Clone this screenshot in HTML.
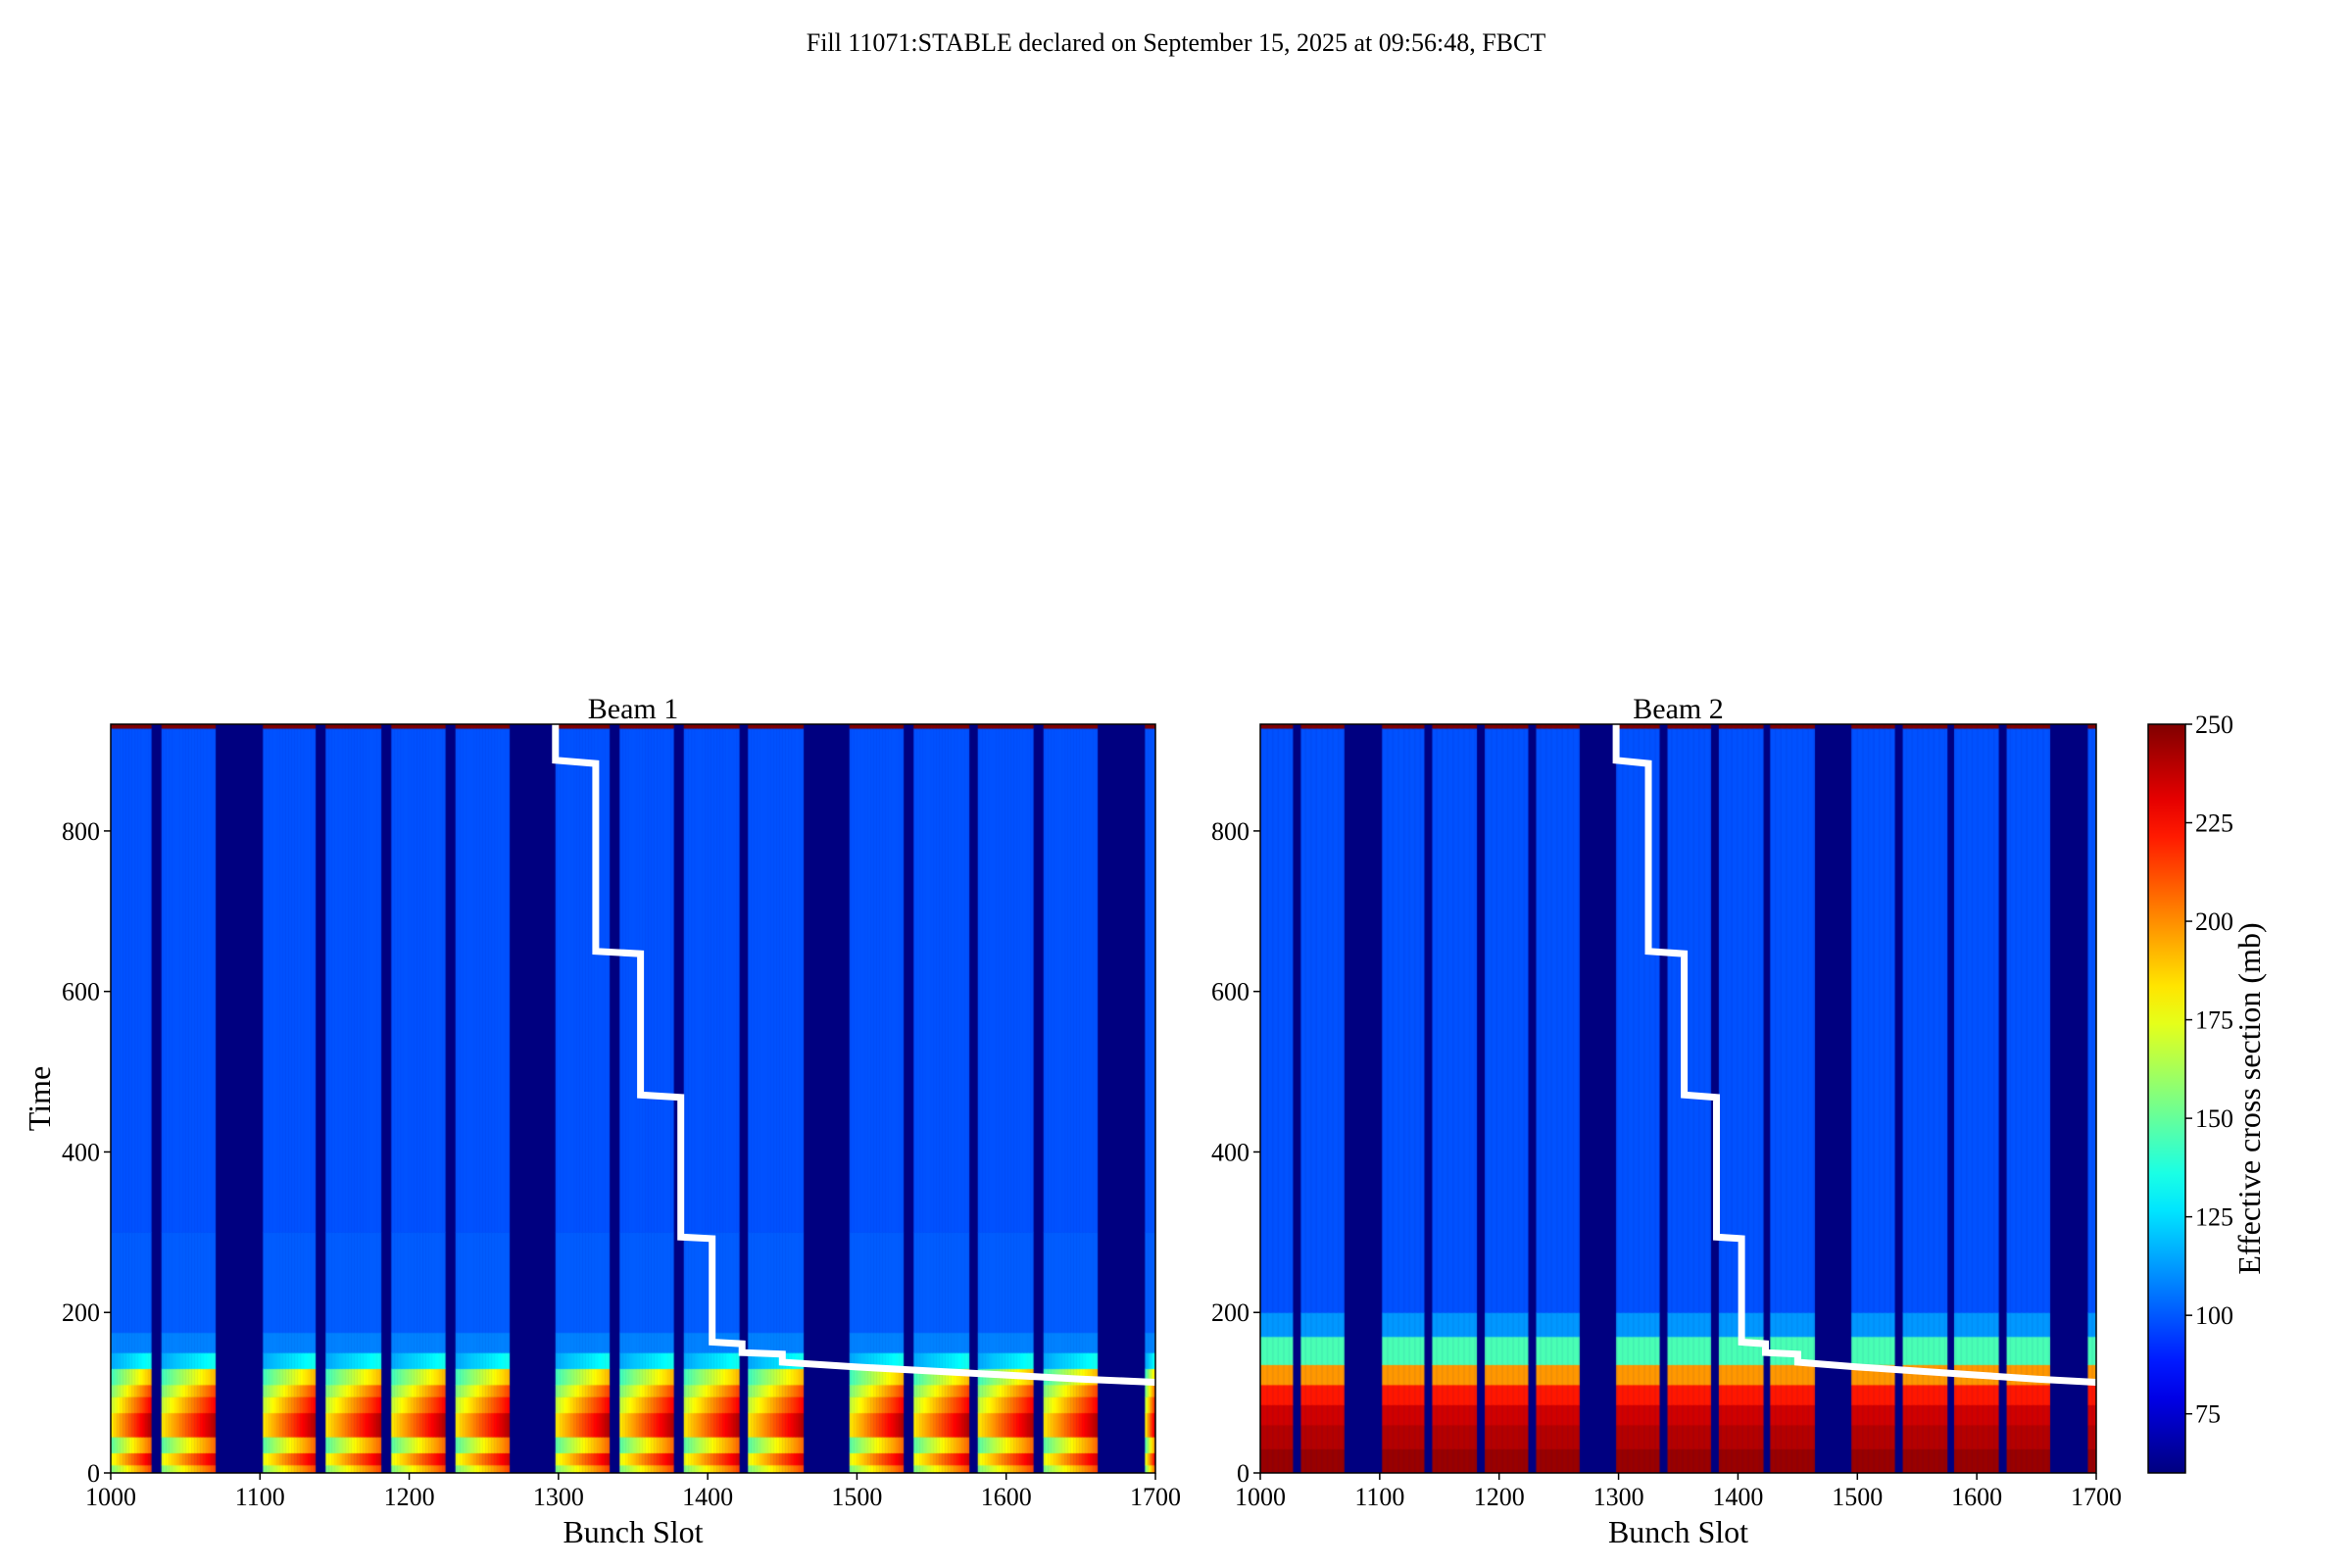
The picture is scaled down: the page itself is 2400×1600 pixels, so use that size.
<!DOCTYPE html>
<html><head><meta charset="utf-8"><style>
html,body{margin:0;padding:0;background:#fff;}
#wrap{position:relative;width:2400px;height:1600px;overflow:hidden;font-family:"Liberation Serif",serif;}
canvas{position:absolute;}
svg{position:absolute;left:0;top:0;font-family:"Liberation Serif",serif;}
svg text{font-family:"Liberation Serif",serif;}
</style></head><body>
<div id="wrap">
<canvas id="c1"></canvas>
<canvas id="c2"></canvas>
<svg id="s" width="2400" height="1600"></svg>
</div>
<script>
// ---- data ----
const trainStart = [1000,1034,1102,1144,1188,1231,1298,1341,1384,1427,1495,1538,1581,1625,1693];
const trainEnd   = [1027,1070,1137,1181,1224,1267,1334,1377,1421,1464,1531,1575,1618,1661,1700];
const bandLo = [0,10,25,45,75,95,110,130,150,175,300,928];
const bandHi = [10,25,45,75,95,110,130,150,175,300,928,933];
const beam1Level = [185,205,178,212,198,185,168,125,108,101,99,250];
const beam1Ramp  = [60,60,60,60,60,60,50,20,0,0,0,0];
const beam2Lo = [0,30,60,85,110,135,170,200,928];
const beam2Hi = [30,60,85,110,135,170,200,928,933];
const beam2Level = [245,240,235,222,198,145,112,99,250];
const lineSlots = [1298,1298,1325,1325,1355,1355,1382,1382,1403,1403,1423,1423,1450,1450,1500,1550,1600,1650,1700];
const lineTimes = [933,888,884,650,647,471,468,294,292,163,161,150,148,138,132,127,122,117,113];
const xTicks = [1000,1100,1200,1300,1400,1500,1600,1700];
const yTicks = [0,200,400,600,800];
const cbTicks = [75,100,125,150,175,200,225,250];
const vmin = 60, vmax = 250, tmax = 933;

const axes = [{x0:113,x1:1179,title:'Beam 1',c:'c1',n:'beam1'},{x0:1286,x1:2139,title:'Beam 2',c:'c2',n:'beam2'}];
const yTop = 739, yBot = 1503;
function yS(t){return yBot-(t/tmax)*(yBot-yTop);}
function clamp(v){return Math.max(0,Math.min(1,v));}
function jet(v){const x=clamp((v-vmin)/(vmax-vmin));
 return [clamp(1.5-Math.abs(4*x-3)),clamp(1.5-Math.abs(4*x-2)),clamp(1.5-Math.abs(4*x-1))].map(c=>Math.round(c*255));}
function rgb(a){return 'rgb('+a.join(',')+')';}

const NS='http://www.w3.org/2000/svg';
const svg=document.getElementById('s');
function el(tag,attrs,parent,text){const e=document.createElementNS(NS,tag);for(const k in attrs)e.setAttribute(k,attrs[k]);if(text!==undefined)e.textContent=text;(parent||svg).appendChild(e);return e;}

axes.forEach((ax,ai)=>{
 const xS=s=>ax.x0+(s-1000)/700*(ax.x1-ax.x0);
 const cv=document.getElementById(ax.c);
 const w=ax.x1-ax.x0,h=yBot-yTop;
 cv.width=w;cv.height=h;cv.style.left=ax.x0+'px';cv.style.top=yTop+'px';
 const ctx=cv.getContext('2d');
 ctx.fillStyle=rgb(jet(vmin));ctx.fillRect(0,0,w,h);
 for(let k=0;k<trainStart.length;k++){
  for(let s=trainStart[k];s<trainEnd[k];s++){
   const frac=(s-trainStart[k])/Math.max(1,trainEnd[k]-trainStart[k]);
   const lo=ai===0?bandLo:beam2Lo, hi=ai===0?bandHi:beam2Hi;
   for(let b=0;b<lo.length;b++){
    let v=ai===0?beam1Level[b]+(frac-0.5)*beam1Ramp[b]:beam2Level[b];
    ctx.fillStyle=rgb(jet(v));
    const xa=xS(s)-ax.x0,xb=xS(s+1)-ax.x0;
    const ya=yS(hi[b])-yTop,yb=yS(lo[b])-yTop;
    ctx.fillRect(xa,ya,xb-xa+0.5,yb-ya+0.5);
   }
  }
 }
 const g=el('g',{});
 
 
 const pts=lineSlots.map((s,i)=>xS(s).toFixed(1)+','+yS(lineTimes[i]).toFixed(1)).join(' ');
 const pl=el('polyline',{points:pts,fill:'none',stroke:'#fff','stroke-width':7,'stroke-linejoin':'miter'},g);
 
 
 el('rect',{x:ax.x0,y:yTop,width:ax.x1-ax.x0,height:yBot-yTop,fill:'none',stroke:'#000','stroke-width':1.5},g);
 xTicks.forEach(t=>{const x=xS(t);
  el('line',{x1:x,x2:x,y1:yBot,y2:yBot+7,stroke:'#000','stroke-width':1.5},g);
  const tx=el('text',{x:x,y:yBot+33,'text-anchor':'middle','font-size':26},g,String(t));
  
  
 });
 yTicks.forEach(t=>{const y=yS(t);
  el('line',{x1:ax.x0-7,x2:ax.x0,y1:y,y2:y,stroke:'#000','stroke-width':1.5},g);
  const tx=el('text',{x:ax.x0-11,y:y+9,'text-anchor':'end','font-size':26},g,String(t));
  
  
 });
 const tt=el('text',{x:(ax.x0+ax.x1)/2,y:733,'text-anchor':'middle','font-size':30},g,ax.title);
 
 
 const xl=el('text',{x:(ax.x0+ax.x1)/2,y:1574,'text-anchor':'middle','font-size':32},g,'Bunch Slot');
 
 
});
const yl=el('text',{x:0,y:0,'text-anchor':'middle','font-size':32,transform:'translate(51,1121) rotate(-90)'},svg,'Time');


const mt=el('text',{x:1200,y:52,'text-anchor':'middle','font-size':26},svg,'Fill 11071:STABLE declared on September 15, 2025 at 09:56:48, FBCT');



// colorbar
const defs=el('defs',{});
const lg=el('linearGradient',{id:'jetg',x1:0,y1:1,x2:0,y2:0},defs);
for(let i=0;i<=20;i++){const v=vmin+(vmax-vmin)*i/20;el('stop',{offset:(i/20),'stop-color':rgb(jet(v))},lg);}
const cb=el('g',{});


const cbx0=2192,cbx1=2230;
const cyS=v=>yBot-(v-vmin)/(vmax-vmin)*(yBot-yTop);
el('rect',{x:cbx0,y:yTop,width:cbx1-cbx0,height:yBot-yTop,fill:'url(#jetg)',stroke:'#000','stroke-width':1.5},cb);
cbTicks.forEach(t=>{const y=cyS(t);
 el('line',{x1:cbx1,x2:cbx1+7,y1:y,y2:y,stroke:'#000','stroke-width':1.5},cb);
 const tx=el('text',{x:cbx1+10,y:y+9,'font-size':26},cb,String(t));
 
 
});
const cl=el('text',{x:0,y:0,'text-anchor':'middle','font-size':32,transform:'translate(2306,1121) rotate(-90)'},cb,'Effective cross section (mb)');


</script>
</body></html>
